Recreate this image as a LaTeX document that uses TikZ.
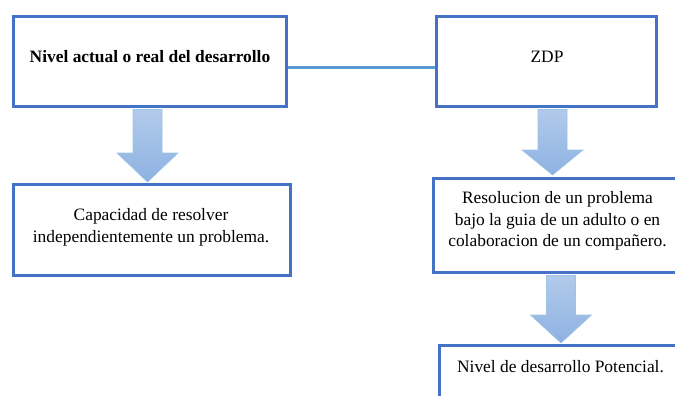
\documentclass[tikz,border=0pt]{standalone}
\usepackage{fontspec}
\setmainfont{Liberation Serif}
\usetikzlibrary{calc}
\definecolor{bordeazul}{HTML}{4472C4}
\definecolor{lineazul}{HTML}{5B9BD5}
\definecolor{flechaborde}{HTML}{9DC3E6}
\definecolor{flechaarriba}{HTML}{B2CAEB}
\definecolor{flechaabajo}{HTML}{8DB2E1}
% flecha de bloque: #1 desde, #2 punta, #3 largo de la punta
\newcommand{\flechabloque}[3]{%
  \path[flecha] let \p1=(#1), \p2=(#2) in
    (\x2-14.5pt,\y1) -- (\x2+14.5pt,\y1) -- (\x2+14.5pt,\y2+#3) -- (\x2+30.5pt,\y2+#3)
    -- (\x2,\y2) -- (\x2-30.5pt,\y2+#3) -- (\x2-14.5pt,\y2+#3) -- cycle;}
\begin{document}
\begin{tikzpicture}[x=1pt,y=-1pt,
    caja/.style={draw=bordeazul, line width=3pt, rectangle, inner sep=0pt},
    texto/.style={align=center, inner sep=0pt, font=\fontsize{17.4}{21.8}\selectfont},
    negrita/.style={texto, font=\fontsize{17.4}{21.8}\selectfont\bfseries},
    enlace/.style={draw=lineazul, line width=2.8pt},
    flecha/.style={draw=flechaborde, line width=0.6pt, top color=flechaarriba, bottom color=flechaabajo},
  ]
  \clip (0,0) rectangle (675,396);

  % cajas
  \node[caja, minimum width=273, minimum height=90] (nivel) at (149.5,61.5) {};
  \node[caja, minimum width=220, minimum height=90] (zdp) at (546.5,61.5) {};
  \node[caja, minimum width=277, minimum height=91] (capac) at (152,230) {};
  \node[caja, minimum width=248, minimum height=94] (resol) at (557.5,225.5) {};
  \node[caja, minimum width=242, minimum height=90] (poten) at (560.5,390.5) {};

  % textos
  \node[negrita] (tnivel) at (150,57) {Nivel actual o real del desarrollo};
  \node[texto] (tzdp) at (547,57) {ZDP};
  \node[texto] (tcapac) at (151,227) {Capacidad de resolver\\independientemente un problema.};
  \node[texto] (tresol) at (557.5,221) {Resolucion de un problema\\bajo la guia de un adulto o en\\colaboracion de un compañero.};
  \node[texto] (tpoten) at (560.5,367) {Nivel de desarrollo Potencial.};

  % union
  \draw[enlace] ([yshift=-6pt]nivel.east) -- ([yshift=-6pt]zdp.west);

  % flechas
  \coordinate (p1) at (147.5,182);
  \coordinate (p2) at (552.5,175);
  \coordinate (p3) at (561,343);
  \flechabloque{[yshift=-1.5pt]nivel.south}{p1}{29pt}
  \flechabloque{[yshift=-1.5pt]zdp.south}{p2}{25pt}
  \flechabloque{[yshift=-1.5pt]resol.south}{p3}{28pt}
\end{tikzpicture}
\end{document}
